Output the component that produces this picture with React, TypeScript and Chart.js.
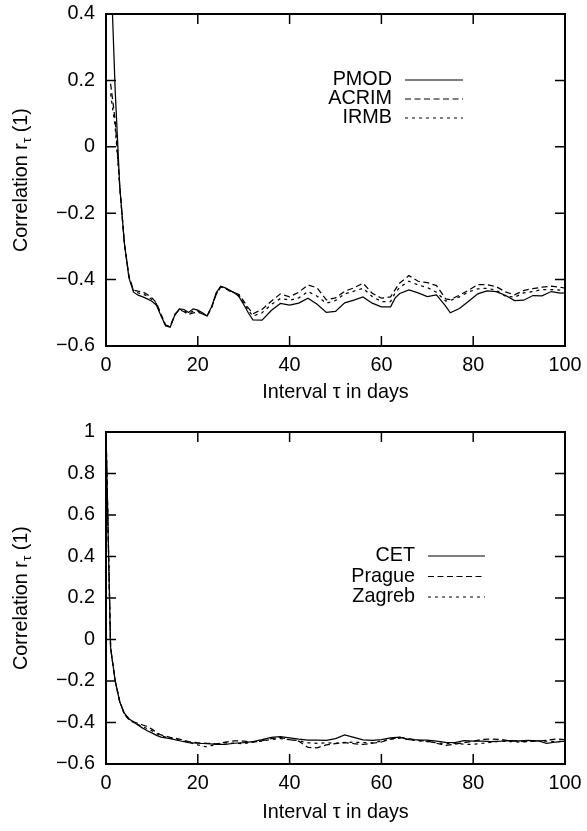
import React, { useEffect, useRef } from "react";
import { Chart, registerables } from "chart.js";

Chart.register(...registerables);

const FONT = "'Liberation Sans', Arial, Helvetica, sans-serif";
const FS = 19.8;

// ---------- Top panel: TSI composites ----------
const topLags = [
  1, 2, 3, 4, 5, 6, 7, 8, 9, 10, 11, 12, 13, 14, 15, 16, 17, 18, 19, 20, 21, 22, 23, 24, 25, 26, 27, 28, 29, 30,
  31, 32, 34, 36, 38, 40, 42, 44, 46, 48, 50, 52, 54, 56, 58, 60, 62, 63, 64, 66, 68, 70, 72, 74, 75, 77, 79, 81,
  83, 85, 87, 89, 91, 93, 95, 97, 99, 100,
];
const pmod = [
  0.56, 0.17, -0.12, -0.29, -0.395, -0.438, -0.447, -0.452, -0.458, -0.465,
  -0.477, -0.51, -0.54, -0.543, -0.507, -0.488, -0.49, -0.499, -0.488, -0.492,
  -0.5, -0.51, -0.482, -0.44, -0.42, -0.425, -0.432, -0.44, -0.452, -0.475,
  -0.5, -0.521, -0.522, -0.493, -0.472, -0.477, -0.471, -0.456, -0.474, -0.499,
  -0.496, -0.47, -0.462, -0.452, -0.471, -0.482, -0.482, -0.455, -0.442, -0.431,
  -0.44, -0.451, -0.446, -0.48, -0.5, -0.487, -0.465, -0.443, -0.434, -0.436,
  -0.447, -0.463, -0.462, -0.448, -0.449, -0.436, -0.441, -0.44,
];
const acrim = [
  0.19, 0.08, -0.12, -0.29, -0.39, -0.432, -0.435, -0.437, -0.445, -0.455,
  -0.47, -0.505, -0.537, -0.54, -0.505, -0.49, -0.497, -0.505, -0.5, -0.498,
  -0.503, -0.51, -0.485, -0.445, -0.422, -0.427, -0.435, -0.44, -0.445, -0.465,
  -0.485, -0.503, -0.49, -0.465, -0.443, -0.452, -0.438, -0.416, -0.425, -0.461,
  -0.455, -0.435, -0.425, -0.411, -0.441, -0.456, -0.452, -0.43, -0.41, -0.388,
  -0.405, -0.409, -0.418, -0.458, -0.46, -0.447, -0.432, -0.415, -0.415, -0.421,
  -0.437, -0.446, -0.433, -0.427, -0.423, -0.42, -0.423, -0.426,
];
const irmb = [
  0.16, 0.06, -0.12, -0.29, -0.39, -0.435, -0.44, -0.443, -0.45, -0.46,
  -0.473, -0.507, -0.54, -0.542, -0.506, -0.489, -0.494, -0.502, -0.495, -0.495,
  -0.502, -0.51, -0.484, -0.443, -0.421, -0.426, -0.433, -0.44, -0.448, -0.47,
  -0.492, -0.51, -0.5, -0.475, -0.457, -0.462, -0.455, -0.436, -0.45, -0.471,
  -0.463, -0.443, -0.435, -0.426, -0.451, -0.466, -0.466, -0.44, -0.423, -0.405,
  -0.416, -0.424, -0.438, -0.465, -0.463, -0.452, -0.437, -0.428, -0.426, -0.432,
  -0.45, -0.453, -0.44, -0.436, -0.43, -0.43, -0.432, -0.433,
];

// ---------- Bottom panel: temperature series ----------
const botLags = [
  0, 1, 2, 3, 4, 5, 6, 7, 8, 9, 10, 11, 12, 14, 16, 18, 20, 22, 24, 26, 28, 30, 32, 34, 36, 38, 40, 42, 44, 46,
  48, 50, 52, 54, 56, 58, 60, 62, 64, 66, 68, 70, 72, 74, 76, 78, 80, 82, 84, 86, 88, 90, 92, 94, 96, 98, 100,
];
const cet = [
  1.0, -0.04, -0.2, -0.3, -0.355, -0.382, -0.398, -0.413, -0.427, -0.44, -0.45, -0.462, -0.47,
  -0.478, -0.488, -0.497, -0.5, -0.502, -0.505, -0.505, -0.5, -0.497, -0.492,
  -0.483, -0.472, -0.468, -0.474, -0.48, -0.485, -0.485, -0.486, -0.478, -0.46,
  -0.472, -0.484, -0.486, -0.482, -0.474, -0.47, -0.482, -0.484, -0.485, -0.49,
  -0.496, -0.497, -0.487, -0.49, -0.49, -0.492, -0.49, -0.487, -0.488, -0.486,
  -0.488, -0.5, -0.494, -0.49,
];
const prague = [
  1.0, -0.04, -0.2, -0.3, -0.36, -0.385, -0.397, -0.405, -0.412, -0.42, -0.432, -0.448, -0.46,
  -0.472, -0.48, -0.492, -0.498, -0.5, -0.503, -0.495, -0.488, -0.49, -0.495,
  -0.488, -0.478, -0.472, -0.482, -0.49, -0.52, -0.522, -0.508, -0.502, -0.497,
  -0.502, -0.506, -0.5, -0.494, -0.48, -0.472, -0.478, -0.485, -0.49, -0.5,
  -0.51, -0.505, -0.497, -0.49, -0.482, -0.48, -0.482, -0.488, -0.49, -0.492,
  -0.49, -0.486, -0.48, -0.482,
];
const zagreb = [
  1.0, -0.04, -0.2, -0.3, -0.36, -0.385, -0.4, -0.41, -0.42, -0.43, -0.44, -0.453, -0.465,
  -0.475, -0.485, -0.495, -0.508, -0.518, -0.505, -0.498, -0.5, -0.502, -0.493,
  -0.49, -0.482, -0.478, -0.482, -0.488, -0.498, -0.5, -0.498, -0.5, -0.496,
  -0.495, -0.497, -0.498, -0.49, -0.48, -0.475, -0.482, -0.488, -0.492, -0.498,
  -0.502, -0.5, -0.505, -0.505, -0.5, -0.495, -0.49, -0.492, -0.494, -0.492,
  -0.488, -0.49, -0.493, -0.488,
];

const xTitle = "Interval \u03c4 in days";
const SOLID: number[] = [];
const DASHED = [6, 3.5];
const DOTTED = [3, 4];

function fmt(v: number) {
  const r = Math.round(v * 10) / 10;
  if (r === 0) return "0";
  return String(r).replace("-", "\u2212");
}

const gnuPlugin: any = {
  id: "gnu",
  afterDraw(chart: any, _args: any, opts: any) {
    const { ctx, chartArea: a, scales } = chart;
    const xs = scales.x;
    const ys = scales.y;
    ctx.save();
    ctx.strokeStyle = "#000";
    ctx.fillStyle = "#000";
    // inward mirrored tick marks
    const T = 10;
    ctx.lineWidth = 1.5;
    ctx.beginPath();
    xs.ticks.forEach((t: any) => {
      const px = xs.getPixelForValue(t.value);
      ctx.moveTo(px, a.bottom);
      ctx.lineTo(px, a.bottom - T);
      ctx.moveTo(px, a.top);
      ctx.lineTo(px, a.top + T);
    });
    ys.ticks.forEach((t: any) => {
      const py = ys.getPixelForValue(t.value);
      ctx.moveTo(a.left, py);
      ctx.lineTo(a.left + T, py);
      ctx.moveTo(a.right, py);
      ctx.lineTo(a.right - T, py);
    });
    ctx.stroke();
    // frame
    ctx.lineWidth = 2;
    ctx.strokeRect(a.left, a.top, a.right - a.left, a.bottom - a.top);

    // legend (text right-aligned, sample line on the right)
    ctx.font = `${FS}px ${FONT}`;
    ctx.textBaseline = "middle";
    chart.data.datasets.forEach((ds: any, i: number) => {
      const y = a.top + opts.legendTop + i * opts.legendGap;
      ctx.textAlign = "right";
      ctx.fillText(ds.label, a.left + opts.textRight, y);
      ctx.lineWidth = 1.2;
      ctx.setLineDash(ds.borderDash || []);
      ctx.beginPath();
      ctx.moveTo(a.left + opts.lineStart, y);
      ctx.lineTo(a.left + opts.lineEnd, y);
      ctx.stroke();
      ctx.setLineDash([]);
    });

    // y-axis title with subscript tau
    const cy = (a.top + a.bottom) / 2;
    const big = `${FS}px ${FONT}`;
    const small = `13.5px ${FONT}`;
    const p1 = "Correlation r";
    const p2 = "\u03c4";
    const p3 = " (1)";
    ctx.font = big;
    const w1 = ctx.measureText(p1).width;
    const w3 = ctx.measureText(p3).width;
    ctx.font = small;
    const w2 = ctx.measureText(p2).width;
    const total = w1 + w2 + w3;
    ctx.translate(opts.yTitleX, cy);
    ctx.rotate(-Math.PI / 2);
    ctx.textAlign = "left";
    ctx.textBaseline = "middle";
    let x0 = -total / 2;
    ctx.font = big;
    ctx.fillText(p1, x0, 0);
    x0 += w1;
    ctx.font = small;
    ctx.fillText(p2, x0, 5);
    x0 += w2;
    ctx.font = big;
    ctx.fillText(p3, x0, 0);
    ctx.restore();
  },
};

function buildChart(canvas: HTMLCanvasElement, spec: any) {
  return new Chart(canvas, {
    type: "line",
    data: {
      datasets: spec.series.map((s: any) => ({
        label: s.label,
        data: spec.lags.map((x: number, i: number) => ({ x, y: s.values[i] })),
        borderColor: "#000",
        borderWidth: 1.25,
        borderDash: s.dash,
        pointRadius: 0,
        pointHoverRadius: 0,
        tension: 0,
        fill: false,
      })),
    },
    options: {
      animation: false,
      responsive: false,
      devicePixelRatio: 1,
      events: [],
      layout: { padding: { top: spec.padTop, right: 22, left: 0, bottom: 0 } },
      plugins: {
        legend: { display: false },
        tooltip: { enabled: false },
        gnu: spec.gnu,
      },
      scales: {
        x: {
          type: "linear",
          min: 0,
          max: 100,
          grid: { display: false, drawTicks: false },
          border: { display: false },
          ticks: {
            stepSize: 20,
            autoSkip: false,
            maxRotation: 0,
            padding: 8,
            color: "#000",
            font: { family: FONT, size: FS },
            callback: (v: any) => String(v),
          },
          title: {
            display: true,
            text: xTitle,
            color: "#000",
            font: { family: FONT, size: FS },
            padding: { top: 0, bottom: spec.titlePadBottom },
          },
          afterFit: (s: any) => {
            s.height = spec.xAxisHeight;
            s.paddingLeft = 0;
            s.paddingRight = 0;
          },
        },
        y: {
          type: "linear",
          min: spec.yMin,
          max: spec.yMax,
          grid: { display: false, drawTicks: false },
          border: { display: false },
          ticks: {
            stepSize: 0.2,
            autoSkip: false,
            padding: 11,
            color: "#000",
            font: { family: FONT, size: FS },
            callback: (v: any) => fmt(Number(v)),
          },
          afterFit: (s: any) => {
            s.width = 106;
            s.paddingTop = 0;
            s.paddingBottom = 0;
          },
        },
      },
    } as any,
    plugins: [gnuPlugin],
  });
}

export default function App() {
  const topRef = useRef<HTMLCanvasElement>(null);
  const botRef = useRef<HTMLCanvasElement>(null);

  useEffect(() => {
    const c1 = buildChart(topRef.current as HTMLCanvasElement, {
      lags: topLags,
      series: [
        { label: "PMOD", values: pmod, dash: SOLID },
        { label: "ACRIM", values: acrim, dash: DASHED },
        { label: "IRMB", values: irmb, dash: DOTTED },
      ],
      yMin: -0.6,
      yMax: 0.4,
      padTop: 14,
      xAxisHeight: 69,
      titlePadBottom: 11,
      gnu: { legendTop: 66, legendGap: 19, textRight: 286, lineStart: 299, lineEnd: 357, yTitleX: 22 },
    });
    const c2 = buildChart(botRef.current as HTMLCanvasElement, {
      lags: botLags,
      series: [
        { label: "CET", values: cet, dash: SOLID },
        { label: "Prague", values: prague, dash: DASHED },
        { label: "Zagreb", values: zagreb, dash: DOTTED },
      ],
      yMin: -0.6,
      yMax: 1,
      padTop: 17,
      xAxisHeight: 67,
      titlePadBottom: 7,
      gnu: { legendTop: 124, legendGap: 20.5, textRight: 309, lineStart: 322, lineEnd: 379, yTitleX: 22 },
    });
    return () => {
      c1.destroy();
      c2.destroy();
    };
  }, []);

  return (
    <div style={{ position: "absolute", left: 0, top: 0, width: 587, height: 831, background: "#fff" }}>
      <canvas ref={topRef} width={587} height={415} style={{ display: "block", width: 587, height: 415 }} />
      <canvas ref={botRef} width={587} height={416} style={{ display: "block", width: 587, height: 416 }} />
    </div>
  );
}
